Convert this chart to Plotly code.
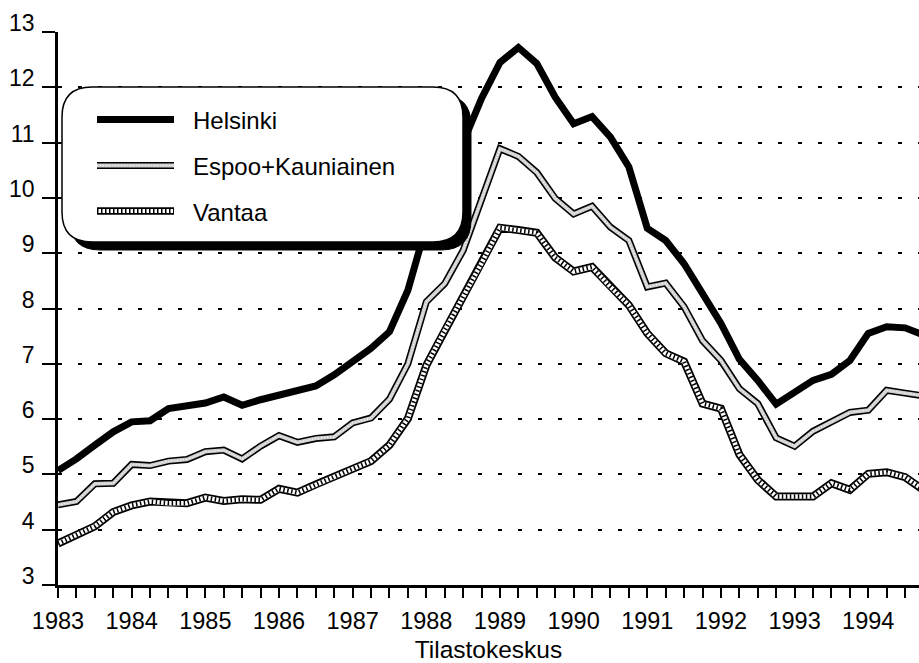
import plotly.graph_objects as go

# ---------------- data (quarterly, 1983Q1 .. 1994Q4) ----------------
quarters = [
    1983.00, 1983.25, 1983.50, 1983.75, 1984.00, 1984.25, 1984.50, 1984.75,
    1985.00, 1985.25, 1985.50, 1985.75, 1986.00, 1986.25, 1986.50, 1986.75,
    1987.00, 1987.25, 1987.50, 1987.75, 1988.00, 1988.25, 1988.50, 1988.75,
    1989.00, 1989.25, 1989.50, 1989.75, 1990.00, 1990.25, 1990.50, 1990.75,
    1991.00, 1991.25, 1991.50, 1991.75, 1992.00, 1992.25, 1992.50, 1992.75,
    1993.00, 1993.25, 1993.50, 1993.75, 1994.00, 1994.25, 1994.50, 1994.75,
]

helsinki = [
    5.07, 5.28, 5.53, 5.77, 5.95, 5.97, 6.19, 6.24,
    6.29, 6.40, 6.25, 6.35, 6.43, 6.52, 6.60, 6.80,
    7.05, 7.28, 7.58, 8.33, 9.50, 10.30, 11.00, 11.80,
    12.45, 12.72, 12.43, 11.82, 11.34, 11.47, 11.10, 10.56,
    9.45, 9.23, 8.81, 8.27, 7.73, 7.08, 6.70, 6.27,
    6.49, 6.70, 6.81, 7.06, 7.55, 7.67, 7.65, 7.52,
]

espoo = [
    4.45, 4.51, 4.83, 4.84, 5.18, 5.16, 5.24, 5.27,
    5.41, 5.44, 5.28, 5.51, 5.70, 5.58, 5.65, 5.68,
    5.93, 6.02, 6.36, 7.00, 8.12, 8.45, 9.05, 9.96,
    10.89, 10.75, 10.46, 9.99, 9.71, 9.85, 9.47, 9.23,
    8.39, 8.46, 8.03, 7.42, 7.06, 6.55, 6.28, 5.66,
    5.51, 5.78, 5.95, 6.12, 6.16, 6.52, 6.47, 6.42,
]

vantaa = [
    3.75, 3.90, 4.06, 4.32, 4.44, 4.51, 4.48, 4.48,
    4.58, 4.52, 4.55, 4.54, 4.74, 4.67, 4.82, 4.95,
    5.10, 5.24, 5.53, 6.01, 6.97, 7.60, 8.20, 8.82,
    9.46, 9.42, 9.37, 8.92, 8.67, 8.75, 8.39, 8.06,
    7.55, 7.19, 7.04, 6.28, 6.19, 5.36, 4.90, 4.60,
    4.60, 4.60, 4.84, 4.72, 5.01, 5.04, 4.95, 4.72,
]

series_names = ["Helsinki", "Espoo+Kauniainen", "Vantaa"]
x_title = "Tilastokeskus"

# ---------------- layout geometry ----------------
W, H = 919, 663
L, R, T, B = 58, 0, 32, 78
PW, PH = W - L - R, H - T - B
X_MIN = 1983
X_MAX = 1983 + PW / 73.66
FONT = "Liberation Sans, Arial, Helvetica, sans-serif"
ESPOO_CORE = "#cfcfcf"


def px_x(px):
    return (px - L) / PW


def px_y(py):
    return (T + PH - py) / PH


fig = go.Figure()

# Vantaa: black band, white core, black hatch
fig.add_trace(go.Scatter(x=quarters, y=vantaa, mode="lines", showlegend=False,
                         line=dict(color="black", width=8), hoverinfo="skip"))
fig.add_trace(go.Scatter(x=quarters, y=vantaa, mode="lines", showlegend=False,
                         line=dict(color="white", width=4.5), hoverinfo="skip"))
fig.add_trace(go.Scatter(x=quarters, y=vantaa, mode="lines", name=series_names[2],
                         showlegend=False,
                         line=dict(color="black", width=4.5, dash="1.5px,2.5px")))

# Espoo+Kauniainen: black band, grey speckled core
fig.add_trace(go.Scatter(x=quarters, y=espoo, mode="lines", showlegend=False,
                         line=dict(color="black", width=7), hoverinfo="skip"))
fig.add_trace(go.Scatter(x=quarters, y=espoo, mode="lines", showlegend=False,
                         line=dict(color=ESPOO_CORE, width=3.8), hoverinfo="skip"))
fig.add_trace(go.Scatter(x=quarters, y=espoo, mode="lines", name=series_names[1],
                         showlegend=False,
                         line=dict(color="white", width=1.2, dash="1px,2px")))

# Helsinki: thick black
fig.add_trace(go.Scatter(x=quarters, y=helsinki, mode="lines", name=series_names[0],
                         showlegend=False, line=dict(color="black", width=7)))


# ---------------- custom rounded legend box ----------------
def rounded_path(x0, y0, x1, y1, r):
    pts = [
        ("M", [(x0 + r, y0)]),
        ("L", [(x1 - r, y0)]),
        ("Q", [(x1, y0), (x1, y0 + r)]),
        ("L", [(x1, y1 - r)]),
        ("Q", [(x1, y1), (x1 - r, y1)]),
        ("L", [(x0 + r, y1)]),
        ("Q", [(x0, y1), (x0, y1 - r)]),
        ("L", [(x0, y0 + r)]),
        ("Q", [(x0, y0), (x0 + r, y0)]),
    ]
    s = ""
    for cmd, ps in pts:
        s += cmd + " " + " ".join(f"{px_x(a):.5f},{px_y(b):.5f}" for a, b in ps) + " "
    return s + "Z"


shapes = []
# shadow
shapes.append(dict(type="path", xref="paper", yref="paper", layer="above",
                   path=rounded_path(70, 95, 471, 250, 30),
                   fillcolor="black", line=dict(color="black", width=1)))
# box
shapes.append(dict(type="path", xref="paper", yref="paper", layer="above",
                   path=rounded_path(62, 87, 463, 242, 30),
                   fillcolor="white", line=dict(color="black", width=1.5)))

sx0, sx1 = 97, 174
rows = [120.5, 166.5, 212]


def seg(y, color, width, dash="solid"):
    return dict(type="line", xref="paper", yref="paper", layer="above",
                x0=px_x(sx0), x1=px_x(sx1), y0=px_y(y), y1=px_y(y),
                line=dict(color=color, width=width, dash=dash))


shapes.append(seg(rows[0] - 1, "black", 7))
shapes.append(seg(rows[1] - 1, "black", 7))
shapes.append(seg(rows[1] - 1, ESPOO_CORE, 3.8))
shapes.append(seg(rows[1] - 1, "white", 1.2, "1px,2px"))
shapes.append(seg(rows[2] - 1, "black", 7.5))
shapes.append(seg(rows[2] - 1, "white", 4))
shapes.append(seg(rows[2] - 1, "black", 4, "1.5px,2.5px"))

annotations = []
for name, y in zip(series_names, rows):
    annotations.append(dict(text=name, xref="paper", yref="paper",
                            x=px_x(191), y=px_y(y), xanchor="left", yanchor="middle",
                            showarrow=False, font=dict(family=FONT, size=24, color="black")))

fig.update_layout(
    width=W, height=H,
    margin=dict(l=L, r=R, t=T, b=B, pad=0),
    paper_bgcolor="white", plot_bgcolor="white",
    font=dict(family=FONT, color="black"),
    shapes=shapes, annotations=annotations,
    showlegend=False,
)

fig.update_xaxes(
    range=[X_MIN, X_MAX], showgrid=False, zeroline=False,
    showline=True, linecolor="black", linewidth=3,
    ticks="outside", ticklen=10, tickwidth=2, tickcolor="black",
    tick0=1983, dtick=1, tickformat="d", ticklabelstandoff=3,
    minor=dict(dtick=0.25, tick0=1983, ticks="outside", ticklen=10, tickwidth=2,
               tickcolor="black", showgrid=False),
    tickfont=dict(family=FONT, size=23.5, color="black"),
    title=dict(text=x_title, font=dict(family=FONT, size=24.5, color="black"), standoff=13),
)

fig.update_yaxes(
    range=[3, 13], dtick=1, tick0=3, zeroline=False,
    showline=True, linecolor="black", linewidth=2.5,
    ticks="outside", ticklen=13, tickwidth=2, tickcolor="black",
    showgrid=True, gridcolor="black", gridwidth=2, griddash="4px,16px",
    tickfont=dict(family=FONT, size=23, color="black"),
    ticklabelshift=-9, ticklabelstandoff=3,
)

fig.write_html(
    "out.html",
    config={"displayModeBar": False},
    post_script="document.body.style.margin='0';document.body.style.overflow='hidden';",
)
